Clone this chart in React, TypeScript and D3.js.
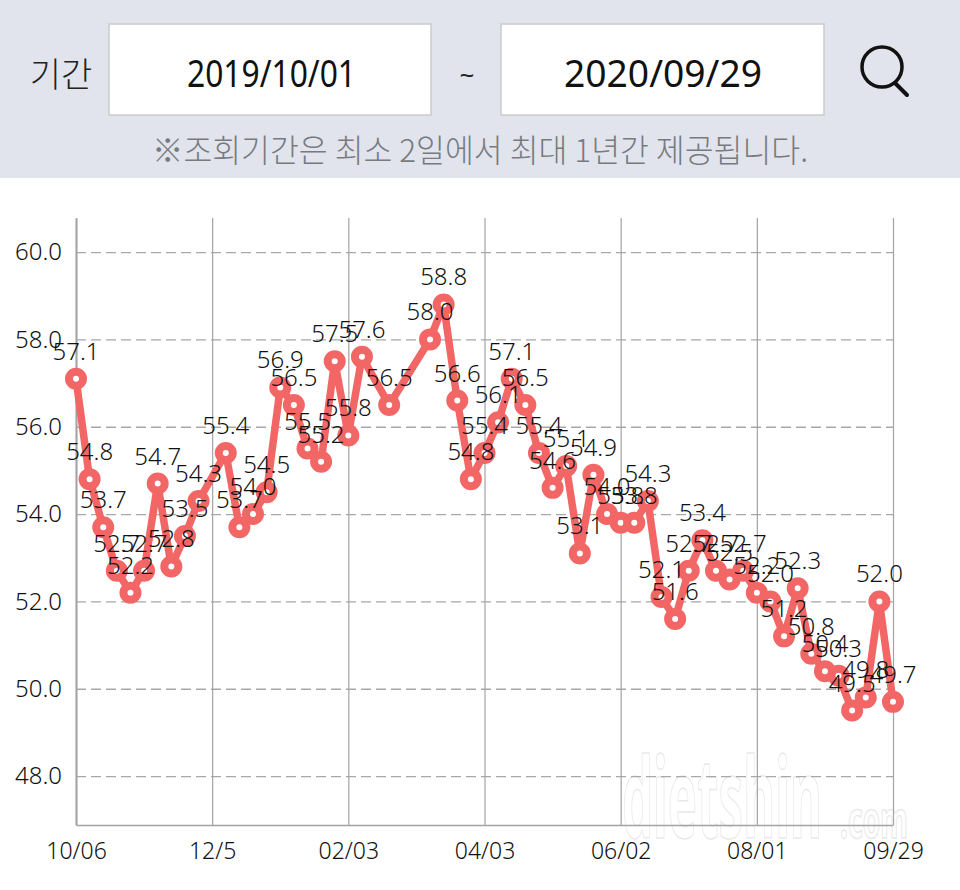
import * as React from 'react';
import { useEffect, useRef } from 'react';
import { axisBottom, axisLeft, line, scaleLinear, select } from 'd3';

// one slot per day-step on the axis, null where nothing was recorded
const weights: (number | null)[] = [
    57.1, 54.8, 53.7, 52.7, 52.2, 52.7, 54.7, 52.8, 53.5, 54.3,
    null, 55.4, 53.7, 54.0, 54.5, 56.9, 56.5, 55.5, 55.2, 57.5,
    55.8, 57.6, null, 56.5, null, null, 58.0, 58.8, 56.6, 54.8,
    55.4, 56.1, 57.1, 56.5, 55.4, 54.6, 55.1, 53.1, 54.9, 54.0,
    53.8, 53.8, 54.3, 52.1, 51.6, 52.7, 53.4, 52.7, 52.5, 52.7,
    52.2, 52.0, 51.2, 52.3, 50.8, 50.4, 50.3, 49.5, 49.8, 52.0,
    49.7,
];
const xTickIndexes = [0, 10, 20, 30, 40, 50, 60];
const xTickLabels = ['10/06', '12/5', '02/03', '04/03', '06/02', '08/01', '09/29'];
const yTicks = [48, 50, 52, 54, 56, 58, 60];

const startDate = '2019/10/01';
const endDate = '2020/09/29';
const periodLabel = '기간';
const notice = '※조회기간은 최소 2일에서 최대 1년간 제공됩니다.';
const watermark = 'dietshin';
const watermarkTail = '.com';

const WIDTH = 960;
const HEIGHT = 890;
const margin = { top: 218, right: 67, bottom: 65, left: 76 };
const SALMON = '#f26666';
const AXIS = '#a3a3a3';
const INK = '#111';
const FONT = '"Noto Sans", "Noto Sans CJK KR", sans-serif';
const KR_FONT = '"Noto Sans CJK KR", sans-serif';

export default function App() {
    const ref = useRef<SVGSVGElement>(null);

    useEffect(() => {
        const svg = select(ref.current);
        svg.selectAll('g.chart').remove();

        const width = WIDTH - margin.left - margin.right;
        const height = HEIGHT - margin.top - margin.bottom;
        const x = scaleLinear().domain([0, weights.length - 1]).range([0, width]);
        const y = scaleLinear().domain([46.88, 60.78]).range([height, 0]);

        const g = svg.append('g').attr('class', 'chart')
            .attr('transform', `translate(${margin.left}, ${margin.top})`);

        // horizontal dashed grid comes from the left axis ticks
        const yAxis = g.append('g').call(
            axisLeft(y)
                .tickValues(yTicks)
                .tickSizeInner(-width)
                .tickSizeOuter(0)
                .tickPadding(14)
                .tickFormat((d) => Number(d).toFixed(1)),
        );
        yAxis.select('.domain').attr('stroke', AXIS).attr('stroke-width', 2);
        yAxis.selectAll('.tick line')
            .attr('stroke', '#a8a8a8')
            .attr('stroke-width', 1.3)
            .attr('stroke-dasharray', '10 5');
        yAxis.selectAll('text')
            .attr('font-family', FONT)
            .attr('font-weight', 300)
            .attr('font-size', 24)
            .attr('fill', INK);

        const xAxis = g.append('g')
            .attr('transform', `translate(0, ${height})`)
            .call(
                axisBottom(x)
                    .tickValues(xTickIndexes)
                    .tickSizeInner(-height)
                    .tickSizeOuter(0)
                    .tickPadding(18)
                    .tickFormat((_, i) => xTickLabels[i]),
            );
        xAxis.select('.domain').attr('stroke', AXIS).attr('stroke-width', 1.5);
        xAxis.selectAll('.tick line').attr('stroke', AXIS).attr('stroke-width', 1.2);
        xAxis.selectAll('text')
            .attr('font-family', FONT)
            .attr('font-weight', 300)
            .attr('font-size', 23)
            .attr('fill', INK);

        const points = weights
            .map((value, index) => ({ value, index }))
            .filter((d) => d.value !== null) as { value: number; index: number }[];

        const path = line<{ value: number; index: number }>()
            .x((d) => x(d.index))
            .y((d) => y(d.value));

        g.append('path')
            .datum(points)
            .attr('fill', 'none')
            .attr('stroke', SALMON)
            .attr('stroke-width', 7.5)
            .attr('stroke-linejoin', 'round')
            .attr('d', path);

        g.selectAll('circle.point')
            .data(points)
            .join('circle')
            .attr('class', 'point')
            .attr('cx', (d) => x(d.index))
            .attr('cy', (d) => y(d.value))
            .attr('r', 7)
            .attr('fill', '#fff')
            .attr('stroke', SALMON)
            .attr('stroke-width', 8);

        g.selectAll('text.value')
            .data(points)
            .join('text')
            .attr('class', 'value')
            .attr('x', (d) => x(d.index))
            .attr('y', (d) => y(d.value) - 19)
            .attr('text-anchor', 'middle')
            .attr('font-family', FONT)
            .attr('font-weight', 300)
            .attr('font-size', 24)
            .attr('fill', INK)
            .text((d) => d.value.toFixed(1));
    }, []);

    return (
        <svg
            ref={ref}
            width={WIDTH}
            height={HEIGHT}
            style={{ position: 'absolute', left: 0, top: 0, background: '#fff' }}
        >
            <rect x={0} y={0} width={WIDTH} height={178} fill="#e1e4ec" />
            <text x={61} y={87} textAnchor="middle" fontFamily={KR_FONT} fontWeight={300} fontSize={34} fill="#222">
                {periodLabel}
            </text>
            <rect x={109} y={24} width={322} height={91} fill="#fff" stroke="#c8ccc8" strokeWidth={1.5} />
            <rect x={501} y={24} width={323} height={91} fill="#fff" stroke="#c8ccc8" strokeWidth={1.5} />
            <text x={187} y={87} fontFamily={FONT} fontSize={38} fill="#111" textLength={169} lengthAdjust="spacingAndGlyphs">
                {startDate}
            </text>
            <text x={564} y={87} fontFamily={FONT} fontSize={38} fill="#111" textLength={198} lengthAdjust="spacingAndGlyphs">
                {endDate}
            </text>
            <text x={467} y={84} textAnchor="middle" fontFamily={FONT} fontSize={26} fill="#222">
                ~
            </text>
            <circle cx={882} cy={67} r={20} fill="none" stroke="#111" strokeWidth={3.5} />
            <path d="M895 83 L907 95" fill="none" stroke="#111" strokeWidth={4} strokeLinecap="round" />
            <text x={152} y={162} fontFamily={KR_FONT} fontWeight={300} fontSize={32} fill="#777b80" textLength={656} lengthAdjust="spacingAndGlyphs">
                {notice}
            </text>
            <g fontFamily={FONT} fontWeight={700} fill="#fff" stroke="#e9e9e9" strokeWidth={1.5}>
                <text x={622} y={838} fontSize={112} textLength={200} lengthAdjust="spacingAndGlyphs">
                    {watermark}
                </text>
                <text x={840} y={838} fontSize={50} textLength={68} lengthAdjust="spacingAndGlyphs">
                    {watermarkTail}
                </text>
            </g>
        </svg>
    );
}
